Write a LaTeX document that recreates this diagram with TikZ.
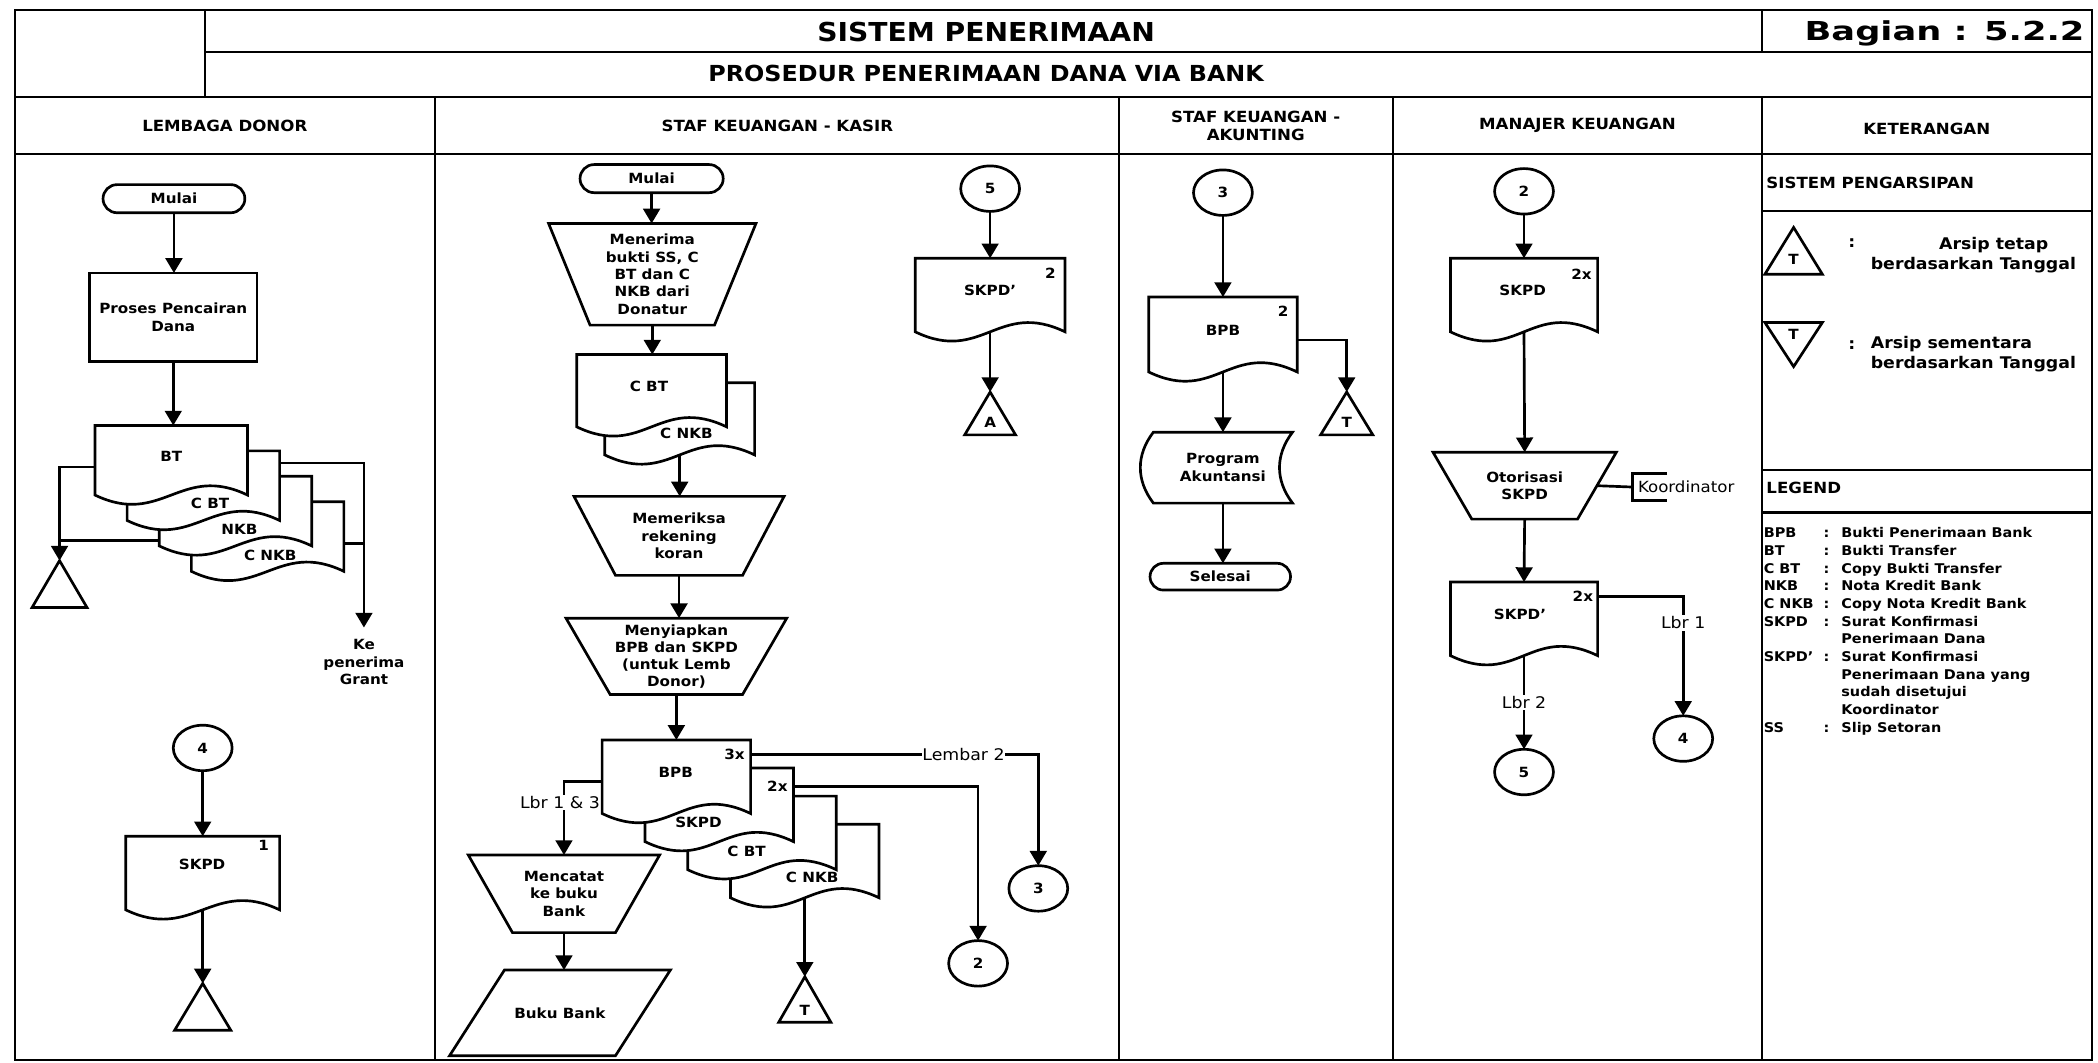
\documentclass[tikz,border=0pt]{standalone}
\usepackage{fontspec}
\setmainfont{DejaVu Sans}[FakeStretch=1.08]
\newfontfamily\widefont{DejaVu Sans}[FakeStretch=1.35]
\usetikzlibrary{arrows.meta,calc,shapes.geometric}

\newcommand\fs[2]{\fontsize{#1}{#2}\selectfont}

% document symbol drawn over a ghost node (wavy bottom edge)
\newcommand\docshape[1]{%
  \draw[ln, fill=white] (#1.north west) -- (#1.north east) -- (#1.south east)
    .. controls +(-50,-24) and +(50,24) .. (#1.south west) -- cycle;}
% manual operation (trapezoid, wide side up)
\newcommand\manualop[2]{%
  \draw[ln] (#1.north west) -- (#1.north east) -- ($(#1.south east)+(-#2,0)$)
    -- ($(#1.south west)+(#2,0)$) -- cycle;}
% archive triangles
\newcommand\archup[1]{\draw[ln] (#1.north) -- (#1.south east) -- (#1.south west) -- cycle;}
\newcommand\archdown[1]{\draw[ln] (#1.north west) -- (#1.north east) -- (#1.south) -- cycle;}

\tikzset{
  ln/.style={line width=2pt},
  arr/.style={ln, -{Triangle[width=12.5pt,length=11pt]}},
  rule/.style={line width=1.6pt},
  body/.style={font=\fs{10.5}{13}\bfseries, align=center, inner sep=0pt, outer sep=0pt},
  ghost/.style={body},
  term/.style={draw, ln, body, rounded corners=10.5pt, minimum height=21pt},
  procbox/.style={draw, ln, body},
  conn/.style={draw, ln, ellipse, body, minimum width=44pt, minimum height=34pt},
  num/.style={font=\fs{10.5}{12}\bfseries, inner sep=0pt},
  flowlbl/.style={font=\fs{12}{14}\selectfont, fill=white, inner xsep=0.5pt, inner ysep=1pt},
  hdr/.style={font=\fs{11.5}{13}\bfseries, align=center, inner sep=0pt},
  note/.style={font=\fs{12}{14}\bfseries, inner sep=0pt},
  lg/.style={font=\fs{10}{12.8}\bfseries, inner sep=0pt},
}

\begin{document}
\begin{tikzpicture}[x=1pt,y=-1pt]
\useasboundingbox (0,0) rectangle (1568,794);

% ---------- frame and header grid ----------
\draw[rule] (11,7.5) rectangle (1563.5,792);
\draw[rule] (153,39) -- (1563.5,39);
\draw[rule] (11,72.5) -- (1563.5,72.5);
\draw[rule] (11,115) -- (1563.5,115);
\draw[rule] (153,7.5) -- (153,72.5);
\draw[rule] (1317,7.5) -- (1317,39);
\foreach \x in {325,836,1041,1317} \draw[rule] (\x,72.5) -- (\x,792);
\draw[rule] (1317,158) -- (1563.5,158);
\draw[rule] (1317,351) -- (1563.5,351);
\draw[rule] (1317,383) -- (1563.5,383);

\node[font=\fs{19.5}{24}\bfseries, inner sep=0pt] (title) at (737,24) {SISTEM PENERIMAAN};
\node[font={\widefont\fs{19.5}{24}\bfseries}, inner sep=0pt, anchor=east] (bagian) at (1558,25) {Bagian : 5.2.2};
\node[font=\fs{16.5}{20}\bfseries, inner sep=0pt] (prosedur) at (737,55) {PROSEDUR PENERIMAAN DANA VIA BANK};

\node[hdr] (h1) at (168,94) {LEMBAGA DONOR};
\node[hdr] (h2) at (581,94) {STAF KEUANGAN - KASIR};
\node[hdr] (h3) at (938.5,94) {STAF KEUANGAN -\\AKUNTING};
\node[hdr] (h4) at (1179,94) {MANAJER KEUANGAN};
\node[hdr] (h5) at (1440,96) {KETERANGAN};

% ---------- nodes: Lembaga Donor ----------
\node[term, minimum width=106pt] (mulai1) at (130,148.5) {Mulai};
\node[procbox, minimum width=125pt, minimum height=66pt] (proses) at (129.5,237) {Proses Pencairan\\Dana};
\node[ghost, minimum width=114pt, minimum height=52pt] (cnkb1) at (200,401) {};
\node[ghost, minimum width=114pt, minimum height=52pt] (nkb1) at (176,382) {};
\node[ghost, minimum width=114pt, minimum height=52pt] (cbt1) at (152,363) {};
\node[ghost, minimum width=114pt, minimum height=52pt] (bt1) at (128,344) {};
\node[ghost, minimum width=41pt, minimum height=35pt] (arch1) at (44.5,436.5) {};
\node[body, anchor=north, outer ysep=9pt] (kepen) at (272,469) {Ke\\penerima\\Grant};
\node[conn] (c4a) at (151.5,559) {4};
\node[ghost, minimum width=115pt, minimum height=55pt] (skpd1) at (151.5,652.5) {};
\node[ghost, minimum width=42pt, minimum height=35pt] (arch2) at (151.5,752.5) {};

% ---------- nodes: Kasir ----------
\node[term, minimum width=107pt] (mulai2) at (487,133.5) {Mulai};
\node[ghost, minimum width=155pt, minimum height=76pt] (terima) at (487.5,205) {Menerima\\bukti SS, C\\BT dan C\\NKB dari\\Donatur};
\node[ghost, minimum width=112pt, minimum height=54pt] (cnkb2) at (508,313) {};
\node[ghost, minimum width=112pt, minimum height=54pt] (cbt2) at (487,292) {};
\node[ghost, minimum width=157pt, minimum height=59pt] (periksa) at (507.5,400.5) {Memeriksa\\rekening\\koran};
\node[ghost, minimum width=165pt, minimum height=57pt, font=\fs{10.5}{12.7}\bfseries] (siapkan) at (505.5,490.5) {Menyiapkan\\BPB dan SKPD\\(untuk Lemb\\Donor)};
\node[ghost, minimum width=111pt, minimum height=55pt] (cnkb3) at (601.5,643.5) {};
\node[ghost, minimum width=111pt, minimum height=55pt] (cbt3) at (569.5,622.5) {};
\node[ghost, minimum width=111pt, minimum height=55pt] (skpd3) at (537.5,601.5) {};
\node[ghost, minimum width=111pt, minimum height=55pt] (bpb3) at (505.5,580.5) {};
\node[ghost, minimum width=143pt, minimum height=58pt] (catat) at (421.5,668) {Mencatat\\ke buku\\Bank};
\node[ghost, minimum width=165pt, minimum height=64pt] (bukubank) at (418.5,757) {Buku Bank};
\node[ghost, minimum width=39pt, minimum height=34pt] (archT1) at (601.5,747) {};
\node[conn] (c3k) at (776,664) {3};
\node[conn] (c2k) at (731,720) {2};
\node[conn] (c5k) at (740,141) {5};
\node[ghost, minimum width=112pt, minimum height=55pt] (skpdp2) at (740,220.5) {};
\node[ghost, minimum width=38pt, minimum height=32pt] (archA) at (740,309) {};

% ---------- nodes: Akunting ----------
\node[conn] (c3a) at (914,144) {3};
\node[ghost, minimum width=111pt, minimum height=56pt] (bpba) at (914,250) {};
\node[ghost, minimum width=39pt, minimum height=32pt] (archTa) at (1006.5,309) {};
\node[ghost, minimum width=104pt, minimum height=53pt] (prog) at (914,349.5) {Program\\Akuntansi};
\node[term, minimum width=105pt, minimum height=20pt, rounded corners=10pt] (selesai) at (912,431) {Selesai};

% ---------- nodes: Manajer ----------
\node[conn] (c2m) at (1139,143) {2};
\node[ghost, minimum width=110pt, minimum height=55pt] (skpdm) at (1139,220.5) {};
\node[ghost, minimum width=137pt, minimum height=50pt] (otor) at (1139.5,363) {Otorisasi\\SKPD};
\node[font=\fs{11.5}{14}\selectfont, anchor=west, inner sep=0pt] (koord) at (1224,364) {Koordinator};
\node[ghost, minimum width=110pt, minimum height=55pt] (skpdpm) at (1139,462.5) {};
\node[conn] (c4m) at (1258,552) {4};
\node[conn] (c5m) at (1139,577) {5};

% ---------- outlines of drawn symbols ----------
\archup{arch1}
\archup{arch2}
\manualop{terima}{31}
\manualop{periksa}{31}
\manualop{siapkan}{33}
\manualop{catat}{33}
\draw[ln] ($(bukubank.north west)+(41,0)$) -- (bukubank.north east)
  -- ($(bukubank.south east)+(-41,0)$) -- (bukubank.south west) -- cycle;
\archup{archT1}
\archup{archA}
\archup{archTa}
\draw[ln] (prog.north west) -- (prog.north east) .. controls +(-13,17) and +(-13,-17) .. (prog.south east)
  -- (prog.south west) .. controls +(-13,-17) and +(-13,17) .. (prog.north west) -- cycle;
\manualop{otor}{29}
\coordinate (bk) at ($(koord.west)+(-4,0)$);
\draw[ln] ($(bk)+(26,-10)$) -- ($(bk)+(0,-10)$) -- ($(bk)+(0,10)$) -- ($(bk)+(26,10)$);

% ---------- connectors ----------
\coordinate (bt1w) at ($(bt1.north west)+(0,31)$);
\coordinate (nkb1w) at ($(nkb1.north west)+(0,48)$);
\coordinate (cbt1e) at ($(cbt1.north east)+(0,9)$);
\coordinate (cnkb1e) at ($(cnkb1.north east)+(0,31)$);
\draw[arr] (mulai1.south) -- (mulai1.south |- proses.north);
\draw[arr] (proses.south) -- (proses.south |- bt1.north);
\draw[arr] (bt1w) -| (arch1.north);
\draw[ln] (nkb1w) -- (nkb1w -| arch1.north);
\draw[arr] (cbt1e) -| (kepen.north);
\draw[ln] (cnkb1e) -- (cnkb1e -| kepen.north);
\draw[arr] (c4a.south) -- (skpd1.north);
\draw[arr] (skpd1.south) -- (arch2.north);

\node[num] (n3x) at (549,564) {3x};
\node[num] (n2x) at (581,588) {2x};
\coordinate (bpb3w) at ($(bpb3.north west)+(0,31)$);
\draw[arr] (mulai2.south) -- (mulai2.south |- terima.north);
\draw[arr] (terima.south) -- (terima.south |- cbt2.north);
\draw[arr] (cnkb2.south) -- (cnkb2.south |- periksa.north);
\draw[arr] (periksa.south) -- (periksa.south |- siapkan.north);
\draw[arr] (siapkan.south) -- (siapkan.south |- bpb3.north);
\draw[arr] (bpb3w) -| node[flowlbl, pos=0.645, xshift=-3pt] (l13) {Lbr 1 \& 3} (catat.north);
\draw[arr] (n3x -| bpb3.east) -| node[flowlbl, pos=0.37] (lem2) {Lembar 2} (c3k.north);
\draw[arr] (n2x -| skpd3.east) -| (c2k.north);
\draw[arr] (cnkb3.south) -- (archT1.north);
\draw[arr] (catat.south) -- (catat.south |- bukubank.north);
\draw[arr] (c5k.south) -- (skpdp2.north);
\draw[arr] (skpdp2.south) -- (archA.north);

\coordinate (bpbae) at ($(bpba.north east)+(0,32)$);
\draw[arr] (c3a.south) -- (bpba.north);
\draw[arr] (bpbae) -| (archTa.north);
\draw[arr] (bpba.south) -- (prog.north);
\draw[arr] (prog.south) -- (prog.south |- selesai.north);

\node[num] (n2xm) at (1183,446) {2x};
\draw[arr] (c2m.south) -- (skpdm.north);
\draw[arr] (skpdm.south) -- (otor.north);
\draw[arr] (otor.south) -- (skpdpm.north);
\draw[ln] ($(otor.east)+(-14.5,0)$) -- (bk);
\draw[arr] (n2xm -| skpdpm.east) -| node[flowlbl, pos=0.61] (lbr1) {Lbr 1} (c4m.north);
\draw[arr] (skpdpm.south) -- node[flowlbl] (lbr2) {Lbr 2} (c5m.north);

% ---------- document symbols (back to front) ----------
\docshape{cnkb1}
\docshape{nkb1}
\docshape{cbt1}
\docshape{bt1}
\docshape{skpd1}
\docshape{cnkb2}
\docshape{cbt2}
\docshape{cnkb3}
\docshape{cbt3}
\docshape{skpd3}
\docshape{bpb3}
\docshape{skpdp2}
\docshape{bpba}
\docshape{skpdm}
\docshape{skpdpm}

% ---------- document labels ----------
\node[body] (bt1l) at (128,341) {BT};
\node[body] (cbt1l) at (157,376) {C BT};
\node[body] (nkb1l) at (179,396) {NKB};
\node[body] (cnkb1l) at (202,415) {C NKB};
\node[body] (skpd1l) at (151,646) {SKPD};
\node[num] (skpd1n) at (197,632) {1};

\node[body] (cbt2l) at (485,289) {C BT};
\node[body] (cnkb2l) at (513,324) {C NKB};
\node[body] (bpb3l) at (505,577) {BPB};
\node[num] (n3xb) at (549,564) {3x};
\node[body] (skpd3l) at (522,615) {SKPD};
\node[num] (n2xb) at (581,588) {2x};
\node[body] (cbt3l) at (558,636) {C BT};
\node[body] (cnkb3l) at (607,656) {C NKB};
\node[body] (skpdp2l) at (740,217) {SKPD'};
\node[num] (skpdp2n) at (785,204) {2};
\node[num] (archT1l) at (601.5,755) {T};
\node[num] (archAl) at (740,316) {A};

\node[body] (bpbal) at (914,247) {BPB};
\node[num] (bpban) at (959,233) {2};
\node[num] (archTal) at (1006.5,316) {T};

\node[body] (skpdml) at (1138,217) {SKPD};
\node[num] (skpdmn) at (1182,205) {2x};
\node[body] (skpdpml) at (1136,459) {SKPD'};
\node[num] (n2xmb) at (1183,446) {2x};

% ---------- keterangan ----------
\node[font=\fs{11.5}{14}\bfseries, inner sep=0pt, anchor=west] (arsip) at (1320,137) {SISTEM PENGARSIPAN};
\node[ghost, minimum width=43pt, minimum height=35pt] (legU) at (1340.5,187.5) {};
\archup{legU}
\node[num] (legUt) at (1340.5,194) {T};
\node[note] (legUc) at (1384,182) {:};
\node[note, anchor=east] (legU1) at (1531,183) {Arsip tetap};
\node[note, anchor=west] (legU2) at (1398,198) {berdasarkan Tanggal};
\node[ghost, minimum width=43pt, minimum height=33pt] (legD) at (1340.5,257.5) {};
\archdown{legD}
\node[num] (legDt) at (1340.5,250) {T};
\node[note] (legDc) at (1384,258) {:};
\node[note, anchor=west] (legD1) at (1398,257) {Arsip sementara};
\node[note, anchor=west] (legD2) at (1398,272) {berdasarkan Tanggal};

\node[font=\fs{11.5}{14}\bfseries, inner sep=0pt, anchor=west] (legend) at (1320,365) {LEGEND};
\foreach \i/\a/\c/\t in {0/BPB/:/Bukti Penerimaan Bank, 1/BT/:/Bukti Transfer,
    2/C BT/:/Copy Bukti Transfer, 3/NKB/:/Nota Kredit Bank, 4/C NKB/:/Copy Nota Kredit Bank,
    5/SKPD/:/Surat Konfirmasi, 6///Penerimaan Dana, 7/SKPD'/:/Surat Konfirmasi,
    8///Penerimaan Dana yang, 9///sudah disetujui, 10///Koordinator, 11/SS/:/Slip Setoran} {
  \node[lg, anchor=base west] (lga\i) at (1318,{402+13.2*\i}) {\a};
  \node[lg, anchor=base] (lgc\i) at (1365,{402+13.2*\i}) {\c};
  \node[lg, anchor=base west] (lgt\i) at (1376,{402+13.2*\i}) {\t};
}
\end{tikzpicture}
\end{document}
